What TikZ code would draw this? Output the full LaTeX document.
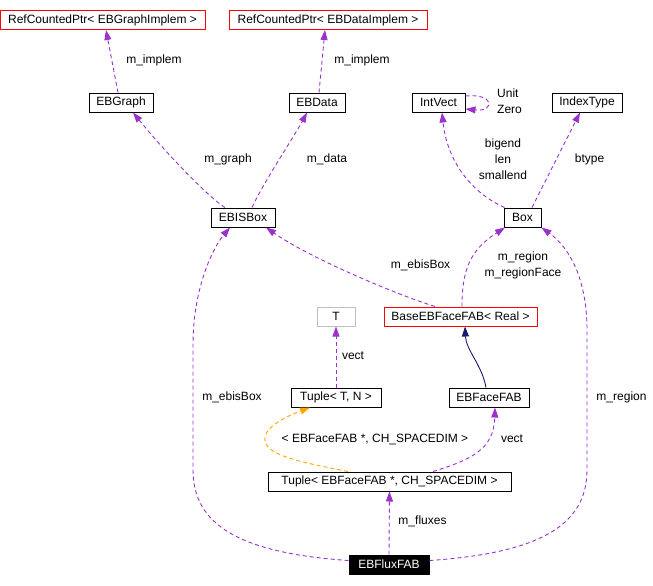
\documentclass[tikz,border=0pt]{standalone}
\usepackage{fontspec}
\setmainfont{Liberation Sans}
\usetikzlibrary{arrows.meta}
\definecolor{UsePurple}{RGB}{154,50,205}
\definecolor{TmplOrange}{RGB}{255,165,0}
\definecolor{InhNavy}{RGB}{25,25,112}
\definecolor{BoxGray}{RGB}{191,191,191}
\tikzset{
  cls/.style={draw=black,fill=white,line width=1pt,inner sep=0pt,minimum height=19pt,
    font=\fontsize{12}{14}\selectfont},
  redcls/.style={cls,draw=red},
  graycls/.style={cls,draw=BoxGray},
  curcls/.style={cls,fill=black,text=white},
  usage/.style={draw=UsePurple,line width=0.9pt,dash pattern=on 4pt off 3pt,
    -{Triangle[length=10pt,width=7pt,fill=UsePurple]}},
  tmpl/.style={usage,draw=TmplOrange,-{Triangle[length=10pt,width=7pt,fill=TmplOrange]}},
  inh/.style={draw=InhNavy,line width=0.9pt,-{Triangle[length=10pt,width=7pt,fill=InhNavy]}},
  lbl/.style={inner sep=0pt,align=center,font=\fontsize{12}{16}\selectfont},
}
\begin{document}
\begin{tikzpicture}[x=1pt,y=-1pt]
\useasboundingbox (0,0) rectangle (653,586);
\node[redcls,minimum width=205pt] (rcg) at (102.5,20) {RefCountedPtr< EBGraphImplem >};
\node[redcls,minimum width=198pt] (rcd) at (328,20) {RefCountedPtr< EBDataImplem >};
\node[cls,minimum width=64pt] (ebgraph) at (121,102.5) {EBGraph};
\node[cls,minimum width=56pt] (ebdata) at (317,102.5) {EBData};
\node[cls,minimum width=53pt] (intvect) at (438.5,102.5) {IntVect};
\node[cls,minimum width=70pt] (indextype) at (587,102.5) {IndexType};
\node[cls,minimum width=64pt] (ebisbox) at (243,217.5) {EBISBox};
\node[cls,minimum width=37pt] (box) at (522.5,217.5) {Box};
\node[graycls,minimum width=38pt] (tparam) at (336,316.5) {T};
\node[redcls,minimum width=153pt] (base) at (460.5,316.5) {BaseEBFaceFAB< Real >};
\node[cls,minimum width=90pt] (tupletn) at (336,397.5) {Tuple< T, N >};
\node[cls,minimum width=80pt] (ebfacefab) at (489,397.5) {EBFaceFAB};
\node[cls,minimum width=243pt] (tuplef) at (389.5,481.5) {Tuple< EBFaceFAB *, CH\_SPACEDIM >};
\node[curcls,minimum width=80pt] (fluxfab) at (389,564.5) {EBFluxFAB};
\draw[usage] ([xshift=-3pt]ebgraph.north) -- ([xshift=3.5pt]rcg.south);
\draw[usage] ([xshift=2pt]ebdata.north) -- ([xshift=-3pt]rcd.south);
\draw[usage] ([xshift=-18pt]ebisbox.north) .. controls (212,200) and (170,158) .. ([xshift=12pt]ebgraph.south);
\draw[usage] ([xshift=9pt]ebisbox.north) .. controls (262,185) and (295,135) .. ([xshift=-10pt]ebdata.south);
\draw[usage] ([yshift=6.5pt]intvect.east) .. controls (495,93) and (495,112) .. ([yshift=-6.5pt]intvect.east);
\draw[usage] ([xshift=1pt]box.north west) .. controls (470,192) and (447,160) .. ([xshift=3.5pt]intvect.south);
\draw[usage] ([xshift=9.5pt]box.north) -- ([xshift=-7pt]indextype.south);
\draw[usage] ([xshift=-25.5pt]base.north) .. controls (395,294) and (310,258) .. ([xshift=23pt]ebisbox.south);
\draw[usage] ([xshift=1.5pt]base.north) .. controls (462,270) and (470,250) .. ([xshift=1.5pt]box.south west);
\draw[usage] (tupletn.north) -- (tparam.south);
\draw[inh] ([xshift=-3pt]ebfacefab.north) .. controls (482,365) and (466,350) .. ([xshift=4.5pt]base.south);
\draw[tmpl] ([xshift=-41.5pt]tuplef.north) .. controls (300,462) and (262,455) .. (265,437)
  .. controls (267,425) and (290,415) .. ([xshift=-26pt]tupletn.south);
\draw[usage] ([xshift=43.5pt]tuplef.north) .. controls (470,460) and (494,450) .. ([xshift=6pt]ebfacefab.south);
\draw[usage] (fluxfab.north) -- (tuplef.south);
\draw[usage] ([yshift=4pt]fluxfab.west) .. controls (240,553) and (193,525) .. (193,470) -- (193,345)
  .. controls (193,285) and (215,245) .. ([xshift=-13pt]ebisbox.south);
\draw[usage] ([yshift=4pt]fluxfab.east) .. controls (540,553) and (587,525) .. (587,470) -- (587,330)
  .. controls (587,280) and (570,248) .. (box.south east);
\node[lbl] (limg) at (154,60) {m\_implem};
\node[lbl] (limd) at (362,60) {m\_implem};
\node[lbl] (lgraph) at (228,159) {m\_graph};
\node[lbl] (ldata) at (327,159) {m\_data};
\node[lbl,align=left,anchor=west] (lunit) at (497,101) {Unit\\Zero};
\node[lbl] (lbig) at (503,159) {bigend\\len\\smallend};
\node[lbl] (lbtype) at (589.5,159) {btype};
\node[lbl] (lebis) at (420.5,265) {m\_ebisBox};
\node[lbl] (lregion) at (523,265) {m\_region\\m\_regionFace};
\node[lbl] (lvect) at (353,356) {vect};
\node[lbl] (ltmpl) at (375,439) {< EBFaceFAB *, CH\_SPACEDIM >};
\node[lbl] (lvect2) at (512,439) {vect};
\node[lbl] (lfluxes) at (422.5,521) {m\_fluxes};
\node[lbl] (lebis2) at (232,397) {m\_ebisBox};
\node[lbl] (lregion2) at (621.5,397) {m\_region};
\end{tikzpicture}
\end{document}
